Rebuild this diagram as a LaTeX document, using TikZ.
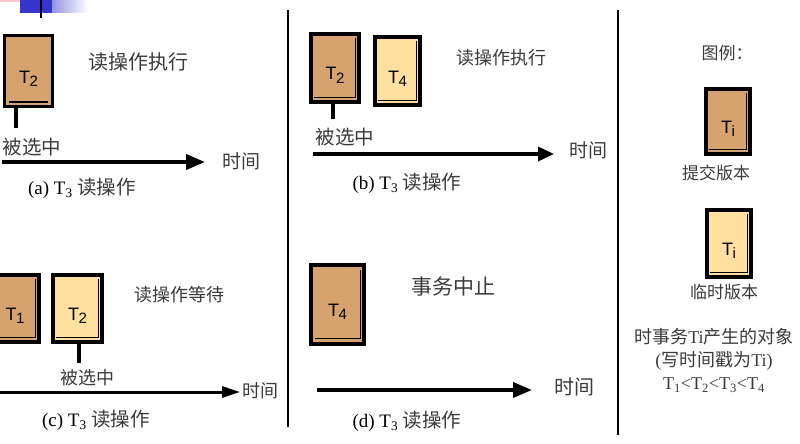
\documentclass[tikz,border=0pt]{standalone}
\usepackage{fontspec}
\setmainfont{Liberation Serif}
\newfontfamily\cjk{Noto Sans CJK SC}
\newfontfamily\arial{Liberation Sans}
\usetikzlibrary{arrows.meta, positioning}
\definecolor{vcommit}{HTML}{D6A36E}
\definecolor{vtemp}{HTML}{FFE09E}
\definecolor{vgray}{HTML}{3A3A3A}
\definecolor{vblue}{HTML}{3535CC}
\definecolor{vpink}{HTML}{F7C8D0}
\newcommand{\Tsub}[1]{T\kern-0.5pt\raisebox{-0.35ex}{\fontsize{15}{15}\selectfont #1}}
\newcommand{\capt}[1]{{\fontsize{19}{22}\selectfont (#1) T\textsubscript{3} }{\cjk\color{vgray}\fontsize{19.5}{22}\selectfont 读操作}}
\newcommand{\pageL}[1]{\draw[pageline] ([xshift=-5pt,yshift=-6pt]#1.north east) |- ([xshift=5pt,yshift=6pt]#1.south west);}
\tikzset{
  commitbox/.style={draw=black, line width=3.2pt, fill=vcommit, inner sep=0pt,
                    text height=24pt, text depth=0pt, font=\arial\fontsize{18}{18}\selectfont},
  tempbox/.style={commitbox, fill=vtemp},
  pageline/.style={line width=1.5pt},
  stemline/.style={line width=3.2pt},
  timearr/.style={-{Triangle[length=19pt,width=15pt]}, line width=3.6pt},
  cntext/.style={font=\cjk\fontsize{20}{24}\selectfont, text=vgray, inner sep=0pt},
  seltext/.style={font=\cjk\fontsize{19.5}{22}\selectfont, text=vgray, inner sep=0pt},
  legtext/.style={font=\cjk\fontsize{17}{20}\selectfont, text=vgray, inner sep=0pt},
  captext/.style={inner sep=0pt},
  sepline/.style={line width=2pt},
}
\begin{document}
\begin{tikzpicture}[x=1pt, y=-1pt]
  \useasboundingbox (0,0) rectangle (800,444);

  % slide logo fragment
  \fill[vpink] (0,0) rectangle (30,2.5);
  \shade[left color=vblue, right color=white] (20,0) rectangle (88,13);
  \fill[vblue] (20,0) rectangle (52,13);
  \draw[line width=2pt] (41,0) -- (41,18);

  % separators
  \draw[sepline] (287.5,10) -- (287.5,427);
  \draw[sepline] (617.5,10) -- (617.5,435);

  % (a)
  \node[commitbox, minimum width=48pt, minimum height=71pt] (a2) at (28.5,71) {\Tsub{2}};
  \draw[pageline] ([xshift=6pt,yshift=6pt]a2.south west) -- ([xshift=-6pt,yshift=6pt]a2.south east);
  \coordinate (sa) at (16,128);
  \draw[stemline] (a2.south -| sa) -- (sa);
  \node[seltext] (sela) at (32,147) {被选中};
  \node[cntext] (opa) at (138,62) {读操作执行};
  \coordinate (a0) at (2,162);
  \coordinate (a1) at (205,162);
  \draw[timearr] (a0) -- (a1);
  \node[cntext, font=\cjk\fontsize{19}{22}\selectfont] (ta) at (241,161) {时间};
  \node[captext] (capa) at (82,188) {\capt{a}};

  % (b)
  \node[commitbox, minimum width=48pt, minimum height=68pt] (b2) at (335,68) {\Tsub{2}};
  \pageL{b2}
  \node[tempbox, minimum width=45pt, minimum height=68pt] (b4) at (397.5,71) {\Tsub{4}};
  \pageL{b4}
  \coordinate (sb) at (333,119);
  \draw[stemline] (b2.south -| sb) -- (sb);
  \node[seltext] (selb) at (345,137) {被选中};
  \node[cntext, font=\cjk\fontsize{18}{22}\selectfont] (opb) at (501,58) {读操作执行};
  \coordinate (b0) at (313,154);
  \coordinate (b1) at (554,154);
  \draw[timearr, -{Triangle[length=16pt,width=14pt]}] (b0) -- (b1);
  \node[cntext, font=\cjk\fontsize{19}{22}\selectfont] (tb) at (588,150) {时间};
  \node[captext] (capb) at (407,183) {\capt{b}};

  % (c)
  \node[commitbox, minimum width=48pt, minimum height=67pt] (c1) at (15,308.5) {\Tsub{1}};
  \pageL{c1}
  \node[tempbox, minimum width=49pt, minimum height=67pt] (c2) at (77.5,308.5) {\Tsub{2}};
  \pageL{c2}
  \coordinate (sc) at (79,363);
  \draw[stemline] (c2.south -| sc) -- (sc);
  \node[seltext, font=\cjk\fontsize{18}{22}\selectfont] (selc) at (87,378) {被选中};
  \node[cntext, font=\cjk\fontsize{18}{22}\selectfont] (opc) at (179,295) {读操作等待};
  \coordinate (c0) at (0,392);
  \coordinate (c1e) at (240,392);
  \draw[timearr, line width=3pt, -{Triangle[length=18pt,width=11pt]}] (c0) -- (c1e);
  \node[cntext, font=\cjk\fontsize{18}{22}\selectfont] (tc) at (260,391) {时间};
  \node[captext] (capc) at (96,420) {\capt{c}};

  % (d)
  \node[commitbox, minimum width=53pt, minimum height=79pt] (d4) at (337.5,304.5) {\Tsub{4}};
  \draw[pageline] ([xshift=-5pt,yshift=-7pt]d4.north east) |- ([xshift=6pt,yshift=7pt]d4.south west);
  \node[cntext, font=\cjk\fontsize{21}{24}\selectfont] (opd) at (453,287) {事务中止};
  \coordinate (d0) at (317,390);
  \coordinate (d1) at (532,390);
  \draw[timearr] (d0) -- (d1);
  \node[cntext, font=\cjk\fontsize{20}{22}\selectfont] (td) at (574,387) {时间};
  \node[captext] (capd) at (407,421) {\capt{d}};

  % legend
  \node[legtext] (leg) at (727,53) {图例：};
  \node[commitbox, minimum width=44pt, minimum height=65pt] (lg1) at (728,121.5) {T\kern-0.5pt\raisebox{-0.35ex}{\fontsize{15}{15}\selectfont i}};
  \pageL{lg1}
  \node[legtext] (lgc) at (716,173) {提交版本};
  \node[tempbox, minimum width=44pt, minimum height=67pt] (lg2) at (729,243.5) {T\kern-0.5pt\raisebox{-0.35ex}{\fontsize{15}{15}\selectfont i}};
  \pageL{lg2}
  \node[legtext] (lgt) at (724,292) {临时版本};
  \node[legtext, font=\fontsize{18}{20}\selectfont] (lgn1) at (714,337) {{\cjk 时事务}Ti{\cjk 产生的对象}};
  \node[legtext, font=\fontsize{18}{20}\selectfont] (lgn2) at (714,361) {({\cjk 写时间戳为}Ti)};
  \node[legtext, font=\fontsize{18}{20}\selectfont] (lgn3) at (714,385) {T\textsubscript{1}<T\textsubscript{2}<T\textsubscript{3}<T\textsubscript{4}};
\end{tikzpicture}
\end{document}
